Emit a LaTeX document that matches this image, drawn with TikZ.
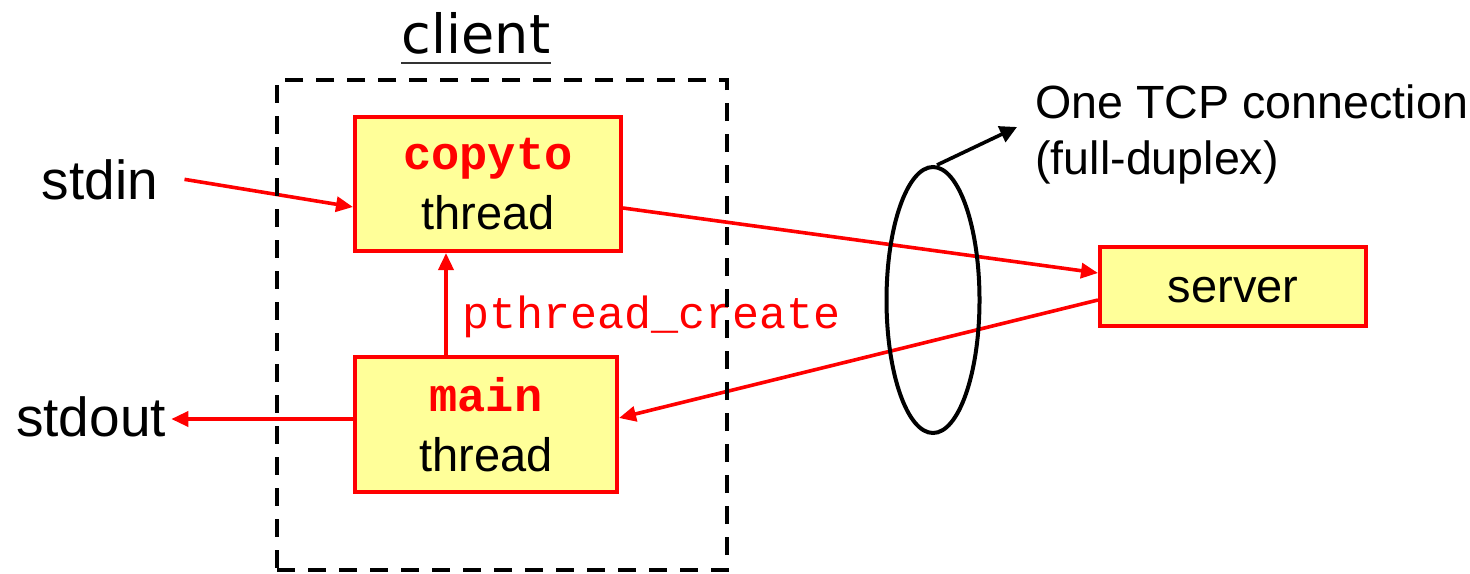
\documentclass[tikz,border=0pt]{standalone}
\usepackage{fontspec}
\setmainfont{Liberation Sans}
\newfontfamily\codefont{Liberation Mono}
\newfontfamily\titlefont{DejaVu Sans}
\usetikzlibrary{arrows.meta,shapes.geometric}
\definecolor{boxfill}{RGB}{255,255,153}
\definecolor{linkred}{RGB}{255,0,0}

\begin{document}
\begin{tikzpicture}[x=0.5pt,y=-0.5pt,
  threadbox/.style={draw=linkred, line width=2pt, fill=boxfill, inner sep=0pt,
    align=center, font=\fontsize{23.5}{30}\selectfont},
  flow/.style={draw=linkred, line width=1.8pt, -{Triangle[length=8.5pt,width=7.5pt]}},
  plain/.style={inner sep=0pt, font=\fontsize{23.3}{28}\selectfont},
  big/.style={inner sep=0pt, font=\fontsize{27.5}{33}\selectfont}
]
\useasboundingbox (0,0) rectangle (1470,573);

% thread boxes and the server
\node[threadbox, minimum width=133pt, minimum height=67pt] (copyto) at (488,184)
  {{\codefont\bfseries\color{linkred}copyto}\\thread};
\node[threadbox, minimum width=131pt, minimum height=67.5pt] (main) at (486,424.5)
  {{\codefont\bfseries\color{linkred}main}\\thread};
\node[threadbox, minimum width=133pt, minimum height=39.5pt,
  text height=15.5pt, text depth=0pt] (server) at (1233,286.5) {server};

% free-standing labels
\node[big, anchor=base] (stdin) at (100,199) {stdin};
\node[big, anchor=base, inner xsep=2.5pt] (stdout) at (91,436) {stdout};
\node[anchor=base west, inner sep=0pt, text=linkred,
  font=\codefont\fontsize{22.5}{27}\selectfont] (pcreate) at (462,328) {pthread\_create};
\node[plain, anchor=base west] (tcp1) at (1035,118) {One TCP connection};
\node[plain, anchor=base west] (tcp2) at (1035,174) {(full-duplex)};
\node[anchor=base, inner sep=0pt, font=\titlefont\fontsize{27}{32}\selectfont] (clientlabel) at (476,53) {client};
\draw[line width=1pt, black!80] ([yshift=-5pt]clientlabel.base west) -- ([yshift=-5pt]clientlabel.base east);

% data flow
\draw[flow] ([xshift=13pt]stdin.east) -- ([yshift=-11.5pt]copyto.west);
\coordinate (mo) at ([yshift=2.75pt]main.west);
\draw[flow] (mo) -- (mo -| stdout.east);
\draw[flow] ([yshift=-12pt]copyto.east) -- ([yshift=6.75pt]server.west);
\draw[flow] ([yshift=-6.75pt]server.west) -- ([yshift=3.25pt]main.east);
\coordinate (ms) at ([xshift=-20pt]main.north);
\draw[flow] (ms) -- (ms |- copyto.south);

% client process boundary
\node[draw, dash pattern=on 9pt off 6.5pt, line width=2pt, inner sep=0pt,
  minimum width=225pt, minimum height=245pt] (clientbox) at (502,325) {};

% the TCP connection
\node[draw, ellipse, line width=2pt, inner sep=0pt,
  minimum width=46.5pt, minimum height=133pt] (conn) at (933,300) {};
\coordinate (tcptip) at (1017,127);
\draw[line width=1.8pt, -{Triangle[length=8.5pt,width=8.5pt]}] ([xshift=2pt]conn.north) -- (tcptip);
\end{tikzpicture}
\end{document}
